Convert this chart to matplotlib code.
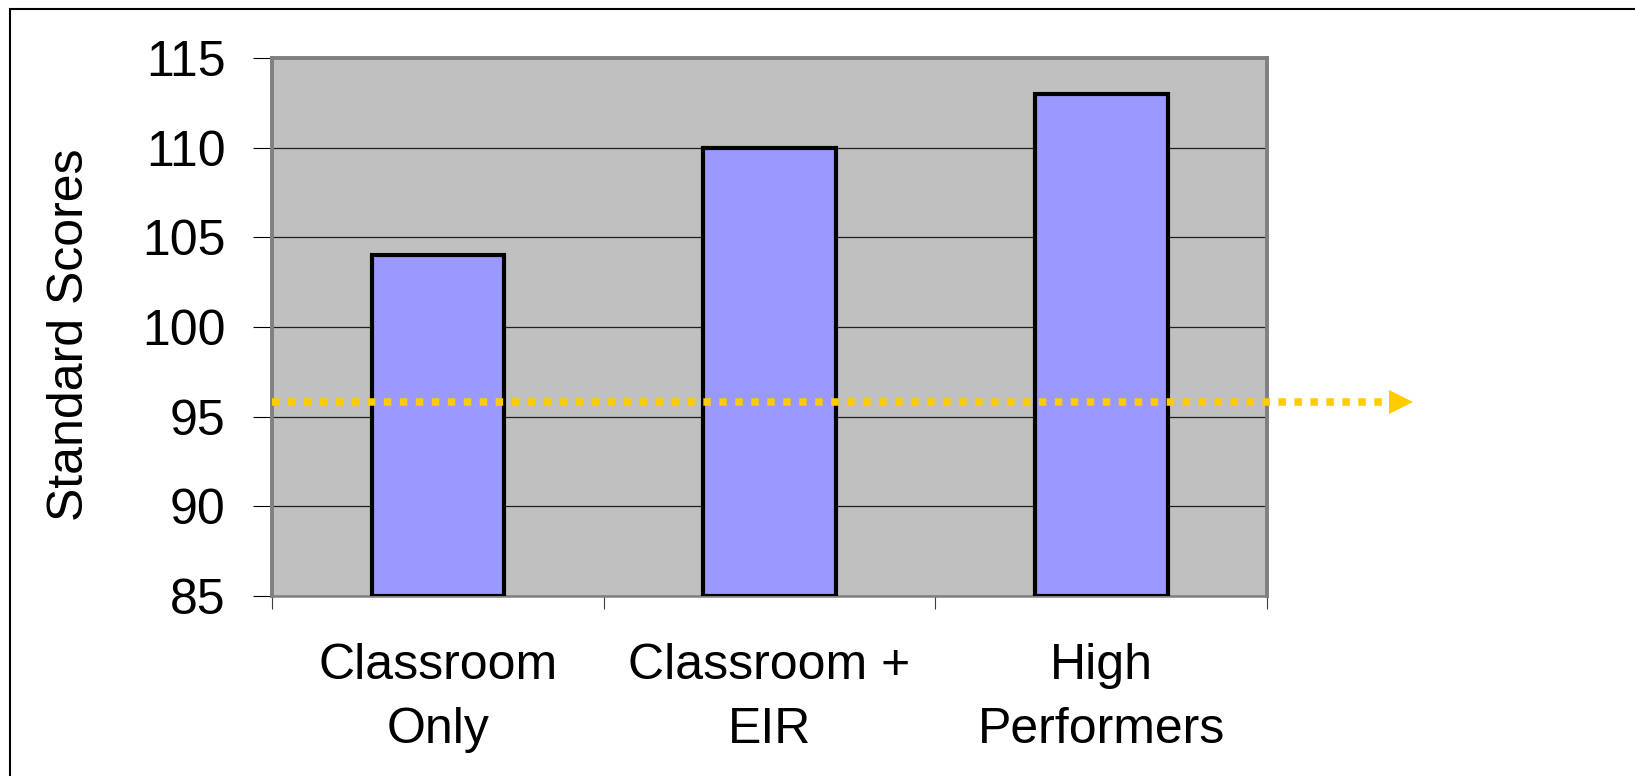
import matplotlib
matplotlib.use("Agg")
import matplotlib.pyplot as plt
from matplotlib.patches import Rectangle

plt.rcParams['font.family'] = ['Liberation Sans', 'DejaVu Sans']

# 数据
categories = ["Classroom\nOnly", "Classroom +\nEIR", "High\nPerformers"]
scores = [104, 110, 113]
yticks = [85, 90, 95, 100, 105, 110, 115]
threshold = 95.8

W, H = 1635, 776
fig = plt.figure(figsize=(W / 100, H / 100), dpi=100)

# 外框（只露出左边和上边）
fig.patches.append(Rectangle((10 / W, -0.5), 2.0, 0.5 + 1 - 9 / H,
                             transform=fig.transFigure, fill=False,
                             edgecolor="black", linewidth=1.5))

# 绘图区
ax = fig.add_axes([272 / W, 1 - 596 / H, (1267 - 272) / W, (596 - 58) / H])
ax.set_facecolor("#C0C0C0")

x = list(range(len(categories)))
ax.bar(x, [s - yticks[0] for s in scores], bottom=yticks[0], width=0.4,
       color="#9999FF", edgecolor="black", linewidth=3.0, zorder=3)

ax.set_xlim(-0.5, len(categories) - 0.5)
ax.set_ylim(yticks[0], yticks[-1])
ax.set_yticks(yticks)
ax.yaxis.grid(True, color="#202020", linewidth=0.9, zorder=1)
ax.set_axisbelow(True)

# 虚线参考线和箭头
ax.plot([-0.5, 2.86], [threshold, threshold], color="#FFCC00", linewidth=5.4,
        linestyle=(0, (1, 1.13)), dash_capstyle="butt", clip_on=False, zorder=5)
ax.plot([2.905], [threshold], marker=">", markersize=17, color="#FFCC00",
        markeredgewidth=0, clip_on=False, zorder=5)

# 坐标轴
for sp in ax.spines.values():
    sp.set_color("#808080")
    sp.set_linewidth(2.8)
ax.spines["bottom"].set_linewidth(1.8)

ax.set_xticks(x)
ax.set_xticklabels(categories, fontsize=36, linespacing=1.5)
ax.set_xticks([-0.5, 0.5, 1.5, 2.5], minor=True)
ax.tick_params(axis="x", which="major", length=0, pad=34)
ax.tick_params(axis="x", which="minor", length=9.5, width=0.8, color="#404040",
               direction="out")
ax.tick_params(axis="y", which="major", length=13.5, width=0.8, color="black",
               direction="out", labelsize=36, pad=20)

ax.set_ylabel("Standard Scores", fontsize=36)
ax.yaxis.set_label_coords(-0.180, 0.486)

fig.savefig("out.png", dpi=100)
